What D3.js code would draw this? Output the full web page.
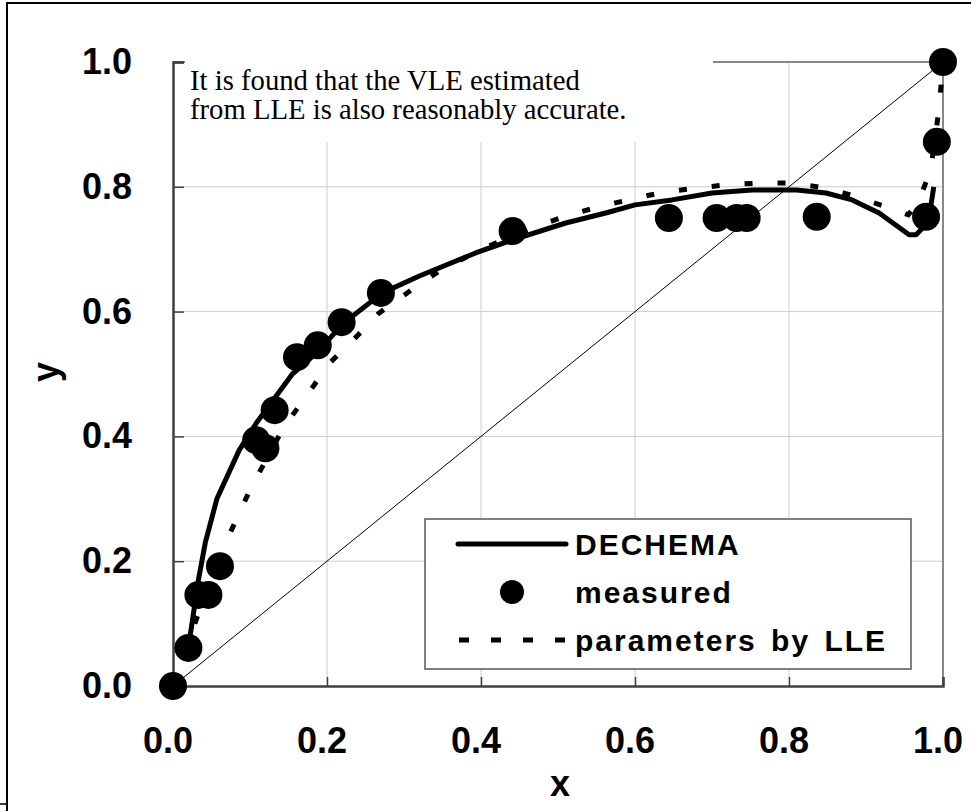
<!DOCTYPE html>
<html>
<head>
<meta charset="utf-8">
<script src="https://cdn.jsdelivr.net/npm/d3@7"></script>
<style>
  body { margin: 0; background: #fff; }
  svg { display: block; }
</style>
</head>
<body>
<div id="chart"></div>
<script>
// measured VLE points
const measX = [0, 0.02, 0.033, 0.046, 0.061, 0.108, 0.12, 0.132, 0.161, 0.188, 0.219, 0.27, 0.441, 0.644, 0.706, 0.732, 0.745, 0.836, 0.978, 0.992, 1.0];
const measY = [0, 0.061, 0.146, 0.146, 0.192, 0.394, 0.381, 0.442, 0.527, 0.546, 0.583, 0.63, 0.729, 0.75, 0.75, 0.75, 0.75, 0.752, 0.752, 0.872, 1.0];

// DECHEMA curve
const dechX = [0.02, 0.033, 0.042, 0.057, 0.086, 0.108, 0.155, 0.19, 0.22, 0.272, 0.32, 0.393, 0.441, 0.51, 0.562, 0.60, 0.648, 0.70, 0.752, 0.81, 0.848, 0.882, 0.917, 0.956, 0.965, 0.975, 0.984, 0.988];
const dechY = [0.061, 0.17, 0.23, 0.30, 0.378, 0.421, 0.50, 0.538, 0.58, 0.63, 0.657, 0.694, 0.715, 0.742, 0.758, 0.771, 0.779, 0.79, 0.795, 0.795, 0.79, 0.779, 0.758, 0.723, 0.723, 0.736, 0.768, 0.80];

// parameters by LLE curve
const lleX = [0, 0.031, 0.065, 0.082, 0.101, 0.144, 0.174, 0.203, 0.236, 0.267, 0.31, 0.352, 0.41, 0.473, 0.517, 0.557, 0.601, 0.64, 0.682, 0.723, 0.765, 0.803, 0.848, 0.888, 0.93, 0.955, 0.969, 0.984, 0.995, 1.0];
const lleY = [0, 0.109, 0.221, 0.266, 0.317, 0.415, 0.466, 0.517, 0.557, 0.597, 0.635, 0.67, 0.705, 0.737, 0.756, 0.769, 0.782, 0.792, 0.798, 0.804, 0.806, 0.806, 0.798, 0.784, 0.766, 0.755, 0.779, 0.827, 0.926, 1.0];

const ticks = [0, 0.2, 0.4, 0.6, 0.8, 1.0];
const legendLabels = ['DECHEMA', 'measured', 'parameters by LLE'];
const noteLines = ['It is found that the VLE estimated', 'from LLE is also reasonably accurate.'];

const width = 971, height = 811;
const x0 = 173, x1 = 943, y0 = 686, y1 = 62;

const x = d3.scaleLinear().domain([0, 1]).range([x0, x1]);
const y = d3.scaleLinear().domain([0, 1]).range([y0, y1]);

const svg = d3.select('#chart').append('svg')
    .attr('width', width)
    .attr('height', height);

// outer frame
svg.append('path')
    .attr('d', `M7,811 V3 H971`)
    .attr('fill', 'none')
    .attr('stroke', '#000')
    .attr('stroke-width', 2);
svg.append('line')
    .attr('x1', 0).attr('x2', 7).attr('y1', 804).attr('y2', 804)
    .attr('stroke', '#000').attr('stroke-width', 1.5);

const sans = 'Arial, "Liberation Sans", sans-serif';

// gridlines
const grid = svg.append('g');
grid.selectAll('.vg')
    .data(ticks.slice(1, 5))
    .enter().append('line')
    .attr('x1', d => x(d)).attr('x2', d => x(d))
    .attr('y1', y1).attr('y2', y0)
    .attr('stroke', '#cccccc').attr('stroke-width', 1);
grid.selectAll('.hg')
    .data(ticks.slice(1, 5))
    .enter().append('line')
    .attr('x1', x0).attr('x2', x1)
    .attr('y1', d => y(d)).attr('y2', d => y(d))
    .attr('stroke', '#cccccc').attr('stroke-width', 1);

// top and right border of plot area
svg.append('path')
    .attr('d', `M${x0},${y1} H${x1} V${y0}`)
    .attr('fill', 'none')
    .attr('stroke', '#888')
    .attr('stroke-width', 2);

// note box (white, covers grid)
svg.append('rect')
    .attr('x', x0 + 12).attr('y', 52)
    .attr('width', 528).attr('height', 90)
    .attr('fill', '#fff');

svg.append('g').selectAll('text')
    .data(noteLines)
    .enter().append('text')
    .attr('x', 190)
    .attr('y', (d, i) => 90 + i * 29)
    .attr('font-family', '"Times New Roman", "Liberation Serif", serif')
    .attr('font-size', 28.7)
    .text(d => d);

// axes
const xAxis = d3.axisBottom(x).tickValues(ticks).tickSize(-9).tickFormat('');
const yAxis = d3.axisLeft(y).tickValues(ticks).tickSize(-11).tickFormat('');

const gx = svg.append('g').attr('transform', `translate(0,${y0})`).call(xAxis);
const gy = svg.append('g').attr('transform', `translate(${x0},0)`).call(yAxis);
[gx, gy].forEach(g => {
    g.select('.domain').attr('stroke', '#404040').attr('stroke-width', 2.5);
    g.selectAll('.tick line').attr('stroke', '#404040').attr('stroke-width', 1.5);
});
gy.selectAll('.tick').filter(d => d === 1).select('line').attr('stroke-width', 2);

// tick labels
svg.append('g').selectAll('text')
    .data(ticks)
    .enter().append('text')
    .attr('x', d => x(d) - 5)
    .attr('y', 753)
    .attr('text-anchor', 'middle')
    .attr('font-family', sans)
    .attr('font-weight', 'bold')
    .attr('font-size', 36)
    .text(d => d.toFixed(1));

svg.append('g').selectAll('text')
    .data(ticks)
    .enter().append('text')
    .attr('x', 132)
    .attr('y', d => y(d) + 12)
    .attr('text-anchor', 'end')
    .attr('font-family', sans)
    .attr('font-weight', 'bold')
    .attr('font-size', 36)
    .text(d => d.toFixed(1));

// axis titles
svg.append('text')
    .attr('x', 560).attr('y', 796)
    .attr('text-anchor', 'middle')
    .attr('font-family', sans).attr('font-weight', 'bold').attr('font-size', 36)
    .text('x');
svg.append('text')
    .attr('transform', 'translate(58,372) rotate(-90)')
    .attr('text-anchor', 'middle')
    .attr('font-family', sans).attr('font-weight', 'bold').attr('font-size', 36)
    .text('y');

// diagonal y = x
svg.append('line')
    .attr('x1', x(0)).attr('y1', y(0))
    .attr('x2', x(1)).attr('y2', y(1))
    .attr('stroke', '#000').attr('stroke-width', 1);

const line = d3.line().x(d => x(d[0])).y(d => y(d[1]));

// DECHEMA
svg.append('path')
    .datum(d3.zip(dechX, dechY))
    .attr('d', line)
    .attr('fill', 'none')
    .attr('stroke', '#000')
    .attr('stroke-width', 5)
    .attr('stroke-linejoin', 'round');

// parameters by LLE
svg.append('path')
    .datum(d3.zip(lleX, lleY))
    .attr('d', line)
    .attr('fill', 'none')
    .attr('stroke', '#000')
    .attr('stroke-width', 5)
    .attr('stroke-dasharray', '8,25');

// measured
svg.append('g').selectAll('circle')
    .data(d3.zip(measX, measY))
    .enter().append('circle')
    .attr('cx', d => x(d[0]))
    .attr('cy', d => y(d[1]))
    .attr('r', 14)
    .attr('fill', '#000');

// legend
const lg = svg.append('g');
lg.append('rect')
    .attr('x', 425).attr('y', 519)
    .attr('width', 486).attr('height', 150)
    .attr('fill', '#fff')
    .attr('stroke', '#555')
    .attr('stroke-width', 1.5);

const rowY = [544, 592, 640];
lg.append('line')
    .attr('x1', 458).attr('x2', 566).attr('y1', rowY[0]).attr('y2', rowY[0])
    .attr('stroke', '#000').attr('stroke-width', 5).attr('stroke-linecap', 'round');
lg.append('circle')
    .attr('cx', 512).attr('cy', rowY[1]).attr('r', 12).attr('fill', '#000');
lg.append('line')
    .attr('x1', 459).attr('x2', 566).attr('y1', rowY[2]).attr('y2', rowY[2])
    .attr('stroke', '#000').attr('stroke-width', 5).attr('stroke-dasharray', '10,22');

lg.selectAll('.lt')
    .data(legendLabels)
    .enter().append('text')
    .attr('x', 575)
    .attr('y', (d, i) => rowY[i] + 11)
    .attr('font-family', sans)
    .attr('font-weight', 'bold')
    .attr('font-size', 30)
    .attr('letter-spacing', 2)
    .attr('word-spacing', 4)
    .text(d => d);
</script>
</body>
</html>
